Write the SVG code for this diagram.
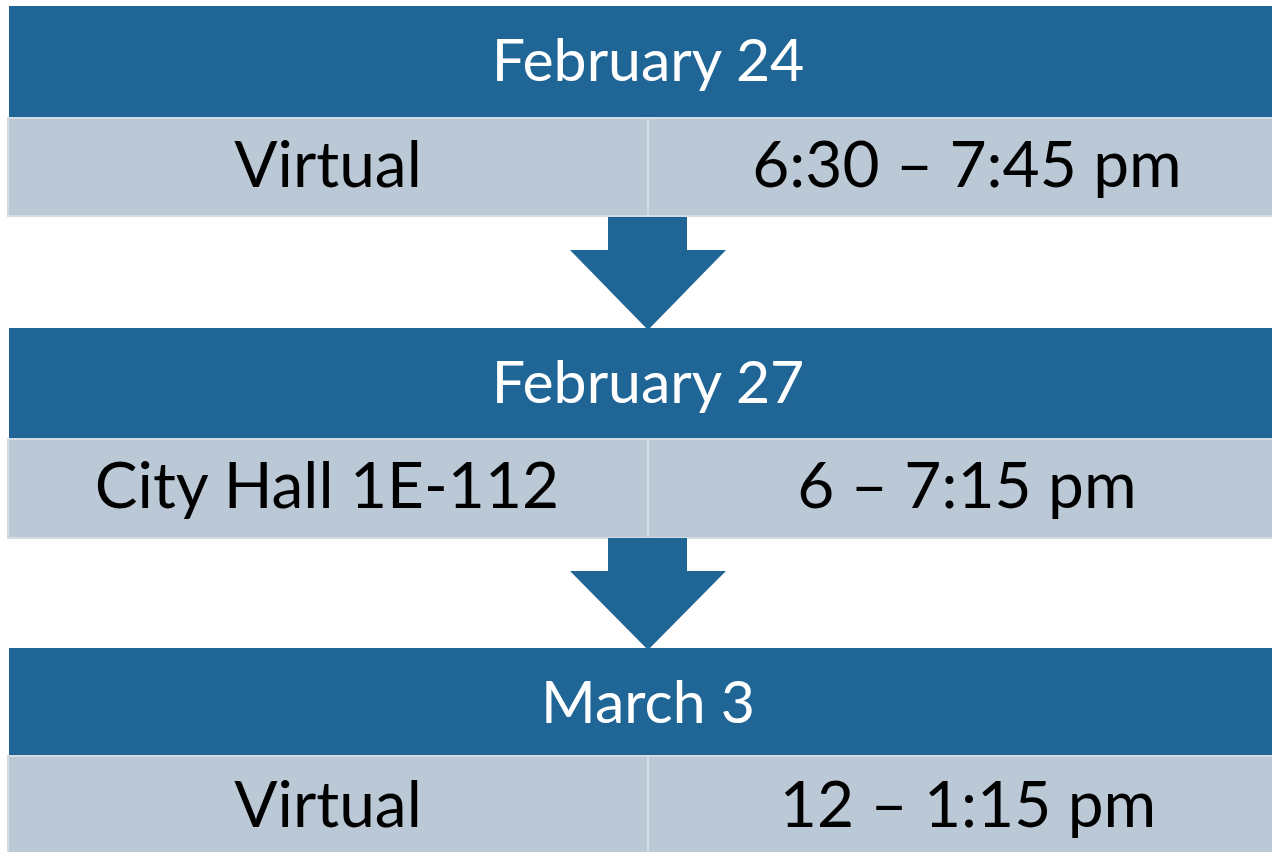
<svg xmlns="http://www.w3.org/2000/svg" width="1272" height="852" viewBox="0 0 1272 852">
  <style>
    .hdr { fill: #1F6596; }
    .row { fill: #BBC8D6; stroke: #D3DBE5; stroke-width: 2; }
    .div { stroke: #D3DBE5; stroke-width: 2; }
    .arrow { fill: #1F6596; }
    .ht { font-family: Lato, "Open Sans", sans-serif; font-size: 59px; fill: #FFFFFF; text-anchor: middle; }
    .bt { font-family: Lato, "Open Sans", sans-serif; font-size: 64px; fill: #000000; text-anchor: middle; }
  </style>
  <rect width="1272" height="852" fill="#FFFFFF"/>

  <!-- Session 1 -->
  <g id="session1">
    <rect class="hdr" x="9" y="6" width="1280" height="112"/>
    <text class="ht" x="648" y="81">February 24</text>
    <rect class="row" x="8" y="118" width="1282" height="98"/>
    <line class="div" x1="648" y1="118" x2="648" y2="216"/>
    <text class="bt" x="328" y="187">Virtual</text>
    <text class="bt" x="967" y="187">6:30 – 7:45 pm</text>
  </g>

  <!-- Session 2 -->
  <g id="session2">
    <rect class="hdr" x="9" y="328" width="1280" height="111"/>
    <text class="ht" x="648" y="403">February 27</text>
    <rect class="row" x="8" y="439" width="1282" height="99"/>
    <line class="div" x1="648" y1="439" x2="648" y2="538"/>
    <text class="bt" x="327" y="508">City Hall 1E-112</text>
    <text class="bt" x="967" y="508">6 – 7:15 pm</text>
  </g>

  <!-- Session 3 -->
  <g id="session3">
    <rect class="hdr" x="9" y="648" width="1280" height="108"/>
    <text class="ht" x="648" y="723">March 3</text>
    <rect class="row" x="8" y="756" width="1282" height="100"/>
    <line class="div" x1="648" y1="756" x2="648" y2="852"/>
    <text class="bt" x="328" y="827">Virtual</text>
    <text class="bt" x="968" y="827">12 – 1:15 pm</text>
  </g>

  <!-- Block arrows between sessions -->
  <g id="connectors">
    <polygon class="arrow" points="608,217 687,217 687,250 726,250 648,330 570,250 608,250"/>
    <polygon class="arrow" points="608,538 687,538 687,571 726,571 648,650 570,571 608,571"/>
  </g>
</svg>
